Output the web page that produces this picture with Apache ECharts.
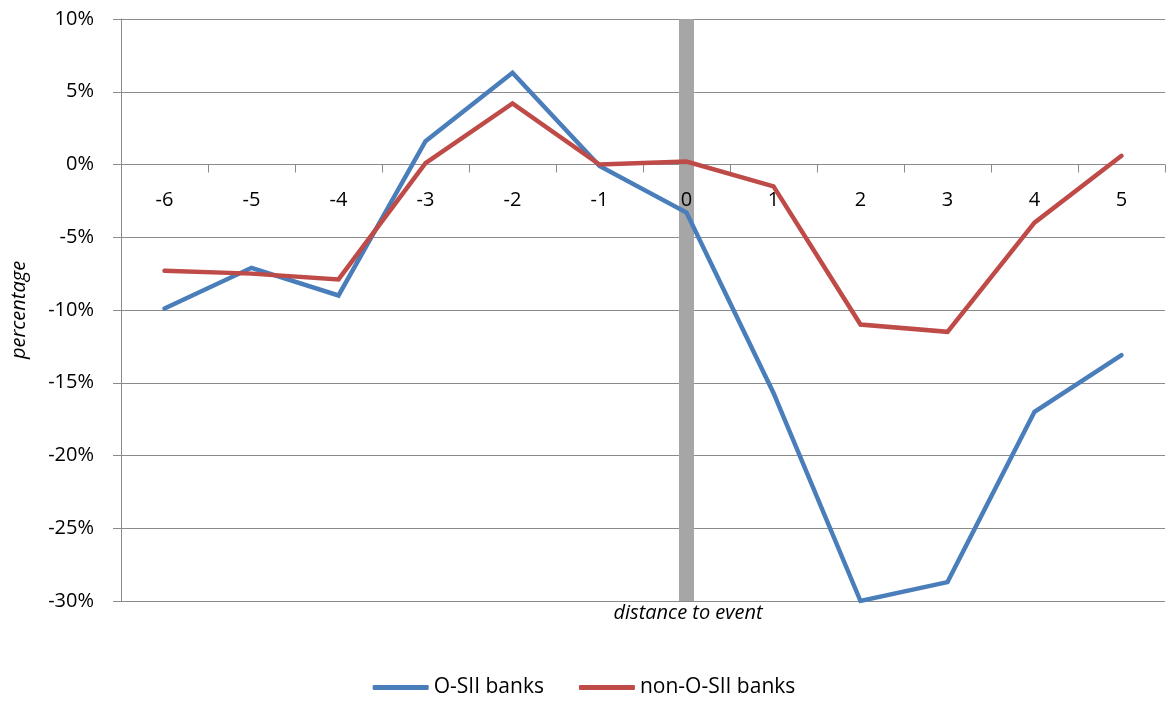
<!DOCTYPE html>
<html>
<head>
<meta charset="utf-8">
<script src="https://cdn.jsdelivr.net/npm/echarts@6/dist/echarts.min.js"></script>
<style>
  html, body { margin: 0; padding: 0; background: #ffffff; }
  #chart { width: 1168px; height: 709px; }
</style>
</head>
<body>
<div id="chart"></div>
<script>
// Event window: days relative to the announcement
const categories = ['-6', '-5', '-4', '-3', '-2', '-1', '0', '1', '2', '3', '4', '5'];

// Cumulative abnormal returns, in percent
const osiiBanks    = [-9.9, -7.1, -9.0, 1.6, 6.3, -0.1, -3.3, -15.7, -30.0, -28.7, -17.0, -13.1];
const nonOsiiBanks = [-7.3, -7.5, -7.9, 0.1, 4.2, 0.0, 0.2, -1.5, -11.0, -11.5, -4.0, 0.6];

// Value-axis range and step, in percent
const yRange = [-30, 10];
const yStep = 5;

// Shaded column marking the event day, spanning the full value range
const eventCategory = '0';
const eventUpper = categories.map(c => (c === eventCategory ? yRange[1] : null));
const eventLower = categories.map(c => (c === eventCategory ? yRange[0] : null));

const seriesNames = ['O-SII banks', 'non-O-SII banks'];
const FONT = '"Open Sans", "Noto Sans", sans-serif';
const GRID = '#8a8a8a';

const chart = echarts.init(document.getElementById('chart'), null, { renderer: 'canvas' });

chart.setOption({
  animation: false,
  backgroundColor: '#ffffff',
  grid: { left: 121, right: 3, top: 19, bottom: 108, containLabel: false },
  xAxis: {
    type: 'category',
    data: categories,
    boundaryGap: true,
    position: 'bottom',
    offset: 0,
    z: 3,
    // the 0% split line of the value axis serves as the category baseline
    axisLine: { show: false, onZero: false },
    axisTick: { show: true, length: 8, lineStyle: { color: GRID, width: 1 } },
    axisLabel: { margin: 26, color: '#000000', fontFamily: FONT, fontSize: 20 },
    splitLine: { show: false }
  },
  yAxis: {
    type: 'value',
    min: yRange[0],
    max: yRange[1],
    interval: yStep,
    name: 'percentage',
    nameLocation: 'middle',
    nameGap: 92,
    nameRotate: 90,
    nameTextStyle: { fontFamily: FONT, fontSize: 20, fontStyle: 'italic', color: '#000000' },
    axisLine: { show: true, lineStyle: { color: GRID, width: 1 } },
    axisTick: { show: true, length: 8, lineStyle: { color: GRID, width: 1 } },
    axisLabel: { margin: 27, color: '#000000', fontFamily: FONT, fontSize: 20, formatter: '{value}%' },
    splitLine: { show: true, lineStyle: { color: GRID, width: 1 } }
  },
  legend: {
    data: seriesNames,
    bottom: 6,
    left: 'center',
    itemWidth: 56,
    itemHeight: 5,
    itemGap: 35,
    icon: 'roundRect',
    textStyle: { fontFamily: FONT, fontSize: 21, color: '#000000' }
  },
  graphic: [{
    type: 'text',
    x: 688,
    y: 613,
    style: {
      text: 'distance to event',
      fontFamily: FONT,
      fontSize: 20,
      fontStyle: 'italic',
      fill: '#000000',
      textAlign: 'center',
      textVerticalAlign: 'middle'
    }
  }],
  series: [
    {
      name: 'event-upper',
      type: 'bar',
      stack: 'event',
      barWidth: 15,
      data: eventUpper,
      itemStyle: { color: '#a6a6a6' },
      silent: true,
      z: 1
    },
    {
      name: 'event-lower',
      type: 'bar',
      stack: 'event',
      barWidth: 15,
      data: eventLower,
      itemStyle: { color: '#a6a6a6' },
      silent: true,
      z: 1
    },
    {
      name: seriesNames[0],
      type: 'line',
      data: osiiBanks,
      symbol: 'none',
      lineStyle: { color: '#4a7ebb', width: 4.5, cap: 'round', join: 'miter' },
      itemStyle: { color: '#4a7ebb' },
      z: 4
    },
    {
      name: seriesNames[1],
      type: 'line',
      data: nonOsiiBanks,
      symbol: 'none',
      lineStyle: { color: '#be4b48', width: 4.5, cap: 'round', join: 'miter' },
      itemStyle: { color: '#be4b48' },
      z: 5
    }
  ]
});

// Move the category axis (ticks and labels) up to the 0% level,
// using the value axis's own scale to find where zero sits.
const zeroY = chart.convertToPixel({ yAxisIndex: 0 }, 0);
const bottomY = chart.convertToPixel({ yAxisIndex: 0 }, yRange[0]);
chart.setOption({ xAxis: { offset: zeroY - bottomY } });
</script>
</body>
</html>
